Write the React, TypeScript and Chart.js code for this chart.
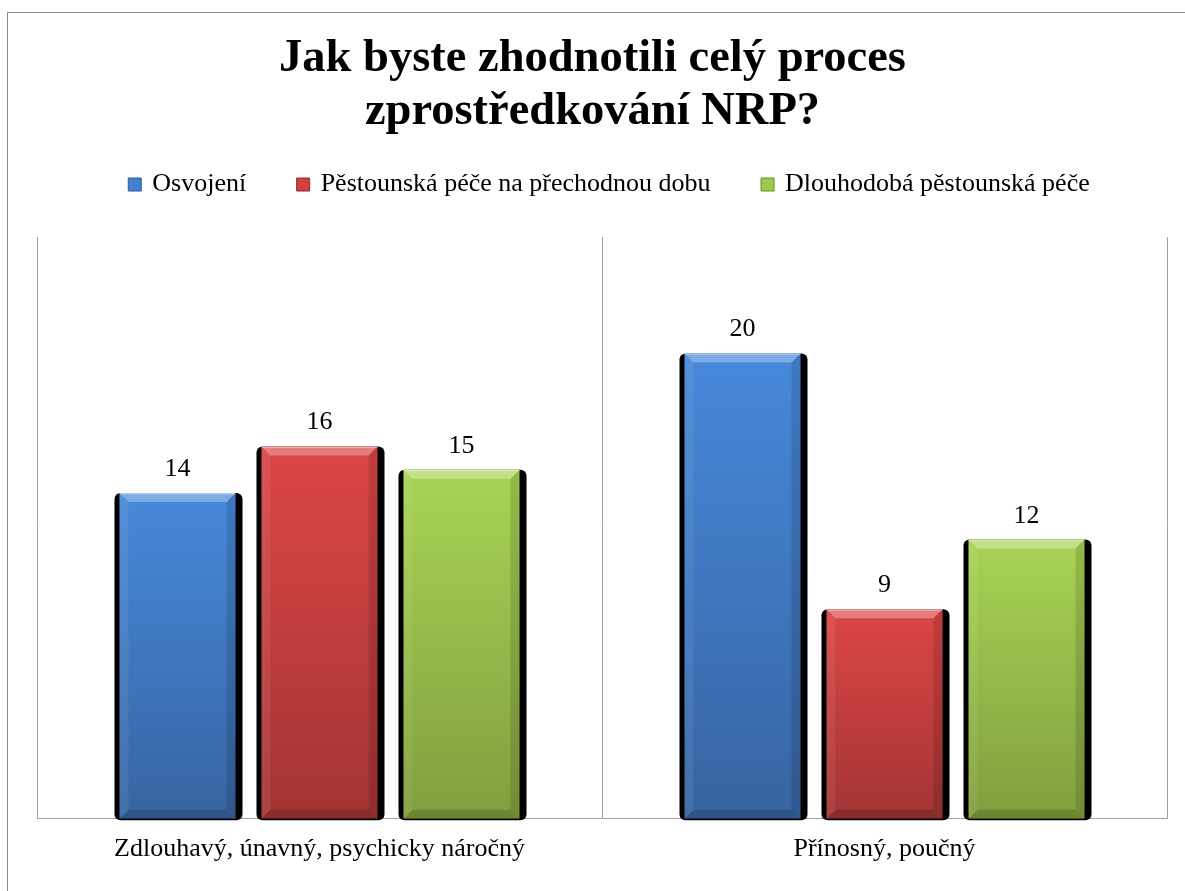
import { useEffect, useRef } from 'react';
import { Chart, registerables } from 'chart.js';

Chart.register(...registerables);

const categories = ['Zdlouhavý, únavný, psychicky náročný', 'Přínosný, poučný'];
const seriesNames = ['Osvojení', 'Pěstounská péče na přechodnou dobu', 'Dlouhodobá pěstounská péče'];
const osvojeni = [14, 20];
const prechodna = [16, 9];
const dlouhodoba = [15, 12];
const titleLines = ['Jak byste zhodnotili celý proces', 'zprostředkování NRP?'];
const yMax = 25;

const FONT = "'Liberation Serif', 'Times New Roman', serif";

const palettes = [
  { top: '#4689da', bottom: '#3764a1', base: '#4080d0', edge: '#2c5a96' },
  { top: '#dc4646', bottom: '#a33434', base: '#d04040', edge: '#8e2a2a' },
  { top: '#a8d455', bottom: '#819f3d', base: '#9cc84c', edge: '#6f8c32' },
];

const legendShift = {
  id: 'legendShift',
  afterLayout(chart: any) {
    if (chart.legend) {
      chart.legend.left += 8;
      chart.legend.right += 8;
    }
  },
};

const barDecor = {
  id: 'barDecor',
  beforeDatasetsDraw(chart: any) {
    const ctx = chart.ctx;
    chart.data.datasets.forEach((_ds: any, di: number) => {
      const meta = chart.getDatasetMeta(di);
      meta.data.forEach((el: any) => {
        const { x, y, base, width } = el.getProps(['x', 'y', 'base', 'width'], true);
        const L = x - width / 2;
        ctx.save();
        ctx.fillStyle = '#000';
        ctx.beginPath();
        if (ctx.roundRect) ctx.roundRect(L - 5, y, width + 12, base - y + 1.5, 6);
        else ctx.rect(L - 5, y, width + 12, base - y + 1.5);
        ctx.fill();
        ctx.restore();
      });
    });
  },
  afterDatasetsDraw(chart: any) {
    const ctx = chart.ctx;
    chart.data.datasets.forEach((ds: any, di: number) => {
      const meta = chart.getDatasetMeta(di);
      meta.data.forEach((el: any, i: number) => {
        const { x, y, base, width } = el.getProps(['x', 'y', 'base', 'width'], true);
        const L = x - width / 2;
        const R = x + width / 2;
        const T = y;
        const B = base;
        const b = 9;
        ctx.save();
        ctx.fillStyle = 'rgba(255,255,255,0.3)';
        ctx.beginPath();
        ctx.moveTo(L, T); ctx.lineTo(R, T); ctx.lineTo(R - b, T + b); ctx.lineTo(L + b, T + b); ctx.closePath();
        ctx.fill();
        ctx.fillStyle = 'rgba(255,255,255,0.07)';
        ctx.beginPath();
        ctx.moveTo(L, T); ctx.lineTo(L + b, T + b); ctx.lineTo(L + b, B - b); ctx.lineTo(L, B); ctx.closePath();
        ctx.fill();
        ctx.fillStyle = 'rgba(0,0,0,0.12)';
        ctx.beginPath();
        ctx.moveTo(R, T); ctx.lineTo(R - b, T + b); ctx.lineTo(R - b, B - b); ctx.lineTo(R, B); ctx.closePath();
        ctx.fill();
        ctx.fillStyle = 'rgba(0,0,0,0.16)';
        ctx.beginPath();
        ctx.moveTo(L, B); ctx.lineTo(L + b, B - b); ctx.lineTo(R - b, B - b); ctx.lineTo(R, B); ctx.closePath();
        ctx.fill();
        ctx.fillStyle = 'rgba(255,255,255,0.35)';
        ctx.fillRect(L, T, width, 1.5);
        ctx.fillStyle = '#000';
        ctx.font = `26px ${FONT}`;
        ctx.textAlign = 'center';
        ctx.textBaseline = 'alphabetic';
        ctx.fillText(String(ds.data[i]), x, T - 17);
        ctx.restore();
      });
    });
  },
};

function barGradient(index: number) {
  return (c: any) => {
    const chart = c.chart;
    const p = palettes[index];
    const ys = chart.scales && chart.scales.y;
    if (!ys || c.raw === undefined || !chart.chartArea) return p.base;
    const top = ys.getPixelForValue(c.raw);
    const bottom = ys.getPixelForValue(0);
    if (!isFinite(top) || !isFinite(bottom) || top === bottom) return p.base;
    const g = chart.ctx.createLinearGradient(0, top, 0, bottom);
    g.addColorStop(0, p.top);
    g.addColorStop(1, p.bottom);
    return g;
  };
}

export default function App() {
  const ref = useRef<HTMLCanvasElement>(null);

  useEffect(() => {
    const seriesValues = [osvojeni, prechodna, dlouhodoba];
    const chart = new Chart(ref.current as HTMLCanvasElement, {
      type: 'bar',
      data: {
        labels: categories,
        datasets: seriesNames.map((name, i) => ({
          label: name,
          data: seriesValues[i],
          backgroundColor: barGradient(i) as any,
          borderWidth: 0,
          barPercentage: 0.817,
          categoryPercentage: 0.754,
        })),
      },
      options: {
        responsive: false,
        devicePixelRatio: 1,
        animation: false,
        layout: { padding: { top: 0, left: 0, right: 0, bottom: 11 } },
        plugins: {
          tooltip: { enabled: false },
          title: {
            display: true,
            text: titleLines,
            color: '#000',
            font: { family: FONT, size: 46.5, weight: 'bold', lineHeight: 1.14 },
            padding: { top: 32.8, bottom: -19.8 },
          },
          legend: {
            display: true,
            position: 'top',
            fullSize: false,
            align: 'center',
            labels: {
              usePointStyle: true,
              pointStyle: 'rect',
              boxWidth: 9,
              boxHeight: 13,
              padding: 52.5,
              color: '#000',
              font: { family: FONT, size: 26 },
              generateLabels: (ch: any) =>
                ch.data.datasets.map((ds: any, i: number) => ({
                  text: ds.label,
                  fillStyle: palettes[i].base,
                  strokeStyle: palettes[i].edge,
                  lineWidth: 1,
                  pointStyle: 'rect',
                  hidden: false,
                  datasetIndex: i,
                })),
            },
          },
          subtitle: {
            display: true,
            text: '',
            position: 'top',
            fullSize: false,
            weight: 500,
            font: { size: 10, lineHeight: 1 },
            padding: { top: 0, bottom: 19.5 },
          } as any,
        },
        scales: {
          x: {
            grid: { display: true, offset: true, color: '#a0a0a0', lineWidth: 1, drawTicks: false },
            border: { display: true, color: '#a0a0a0', width: 1 },
            ticks: {
              color: '#000',
              font: { family: FONT, size: 26 },
              padding: 15,
              maxRotation: 0,
              autoSkip: false,
            },
          },
          y: {
            type: 'linear',
            min: 0,
            max: yMax,
            display: true,
            grid: { display: false },
            border: { display: false },
            ticks: { display: false },
            afterFit: (s: any) => { s.width = 37; },
          },
          yR: {
            type: 'linear',
            position: 'right',
            display: true,
            grid: { display: false },
            border: { display: false },
            ticks: { display: false },
            afterFit: (s: any) => { s.width = 18; },
          },
        },
      },
      plugins: [legendShift, barDecor],
    } as any);
    return () => chart.destroy();
  }, []);

  return (
    <div style={{ position: 'fixed', left: 0, top: 0, width: 1185, height: 891, overflow: 'hidden', background: '#fff' }}>
      <div
        style={{
          position: 'absolute',
          left: 7,
          top: 12,
          width: 1300,
          height: 1000,
          border: '1px solid #8c8c8c',
          boxSizing: 'border-box',
        }}
      />
      <canvas
        ref={ref}
        width={1185}
        height={891}
        style={{ position: 'absolute', left: 0, top: 0, width: 1185, height: 891 }}
      />
    </div>
  );
}
